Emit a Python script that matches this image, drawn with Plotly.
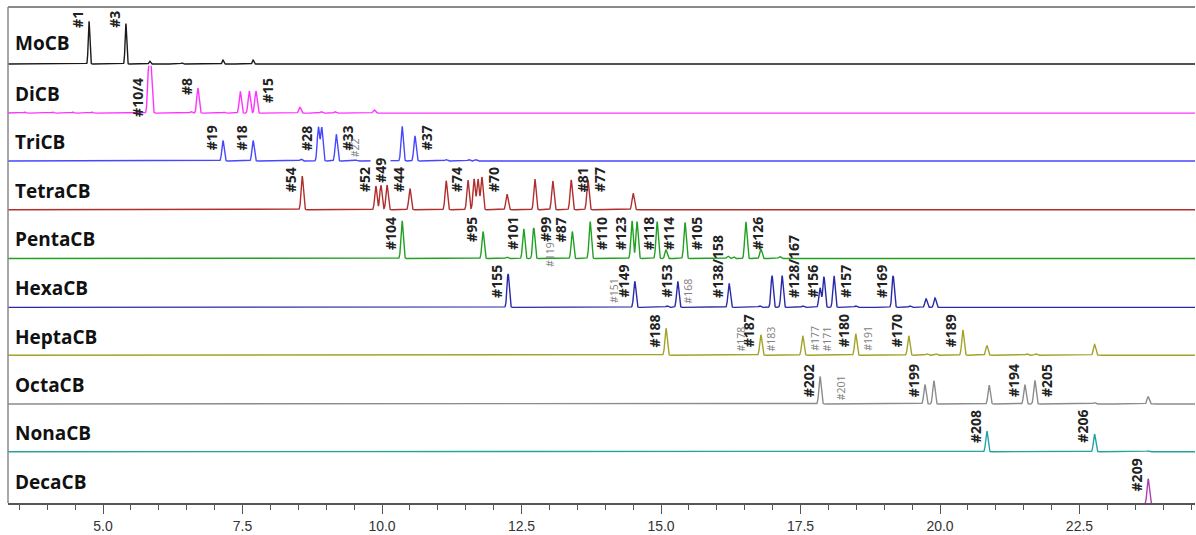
import numpy as np
import plotly.graph_objects as go
from plotly.subplots import make_subplots

# ---- peak tables: retention time (min), relative height, congener label ----
mocb_rt = [4.75, 5.41, 5.84, 6.42, 7.15, 7.69]
mocb_h = [0.75, 0.71, 0.05, 0.02, 0.07, 0.07]
mocb_lbl = ["#1", "#3", "", "", "", ""]

dicb_rt = [3.60, 4.10, 4.46, 4.80, 5.82, 5.86, 6.58, 6.70, 7.17, 7.46, 7.62, 7.74, 8.53, 8.91, 9.16, 9.86]
dicb_h = [0.02, 0.02, 0.02, 0.02, 0.96, 0.92, 0.03, 0.53, 0.02, 0.46, 0.47, 0.47, 0.12, 0.03, 0.03, 0.07]
dicb_lbl = ["", "", "", "", "#10/4", "", "", "#8", "", "", "", "#15", "", "", "", ""]

tricb_rt = [7.15, 7.69, 8.55, 8.86, 8.92, 9.18, 9.53, 10.36, 10.59, 11.15, 11.56, 11.68]
tricb_h = [0.44, 0.44, 0.04, 0.73, 0.72, 0.58, 0.02, 0.75, 0.54, 0.03, 0.03, 0.03]
tricb_lbl = ["#19", "#18", "", "#28", "", "#33", "", "", "#37", "", "", ""]

tetracb_rt = [8.57, 9.89, 9.98, 10.09, 10.50, 11.15, 11.54, 11.65, 11.72, 11.79, 12.24, 12.74, 13.06, 13.39, 13.69, 14.50]
tetracb_h = [0.71, 0.50, 0.52, 0.52, 0.45, 0.61, 0.63, 0.65, 0.65, 0.69, 0.33, 0.65, 0.61, 0.63, 0.63, 0.35]
tetracb_lbl = ["#54", "#52", "#49", "", "#44", "", "#74", "", "", "#70", "", "", "", "#81", "#77", ""]

pentacb_rt = [10.36, 11.81, 12.24, 12.54, 12.72, 13.41, 13.73, 14.48, 14.57, 14.93, 15.09, 15.43, 16.20, 16.30, 16.52, 16.79, 17.13]
pentacb_h = [0.80, 0.57, 0.03, 0.63, 0.65, 0.57, 0.78, 0.80, 0.78, 0.78, 0.18, 0.76, 0.05, 0.04, 0.78, 0.20, 0.04]
pentacb_lbl = ["#104", "#95", "", "#101", "#99", "#87", "#110", "#123", "#118", "#114", "", "#105", "", "", "#126", "", ""]

hexacb_rt = [12.26, 14.53, 15.11, 15.30, 16.22, 16.77, 16.99, 17.17, 17.54, 17.85, 17.92, 18.10, 18.49, 19.16, 19.46, 19.75, 19.91]
hexacb_h = [0.71, 0.55, 0.03, 0.55, 0.51, 0.03, 0.67, 0.67, 0.03, 0.41, 0.65, 0.67, 0.03, 0.67, 0.03, 0.18, 0.20]
hexacb_lbl = ["#155", "#149", "", "#153", "#138/158", "", "", "#128/167", "", "", "#156", "#157", "", "#169", "", "", ""]

heptacb_rt = [15.09, 16.79, 17.54, 18.49, 19.44, 19.77, 19.93, 20.41, 20.84, 21.56, 21.72, 22.77]
heptacb_h = [0.58, 0.44, 0.42, 0.46, 0.42, 0.03, 0.03, 0.54, 0.21, 0.03, 0.03, 0.23]
heptacb_lbl = ["#188", "#187", "", "#180", "#170", "", "", "#189", "", "", "", ""]

octacb_rt = [17.85, 19.73, 19.89, 20.88, 21.52, 21.70, 22.77, 23.73]
octacb_h = [0.58, 0.41, 0.49, 0.40, 0.41, 0.50, 0.03, 0.15]
octacb_lbl = ["#202", "#199", "", "", "#194", "#205", "", ""]

nonacb_rt = [20.84, 22.77, 23.73]
nonacb_h = [0.45, 0.38, 0.02]
nonacb_lbl = ["#208", "#206", ""]

decacb_rt = [23.73]
decacb_h = [0.50]
decacb_lbl = ["#209"]

# minor (co-eluting / trace) congeners, written in small grey text
minor_lbl = {
    "TriCB": [(9.53, "#22")],
    "PentaCB": [(13.01, "#119")],
    "HexaCB": [(14.16, "#151"), (15.48, "#168")],
    "HeptaCB": [(16.43, "#178"), (16.97, "#183"), (17.76, "#177"), (17.97, "#171"), (18.71, "#191")],
    "OctaCB": [(18.24, "#201")],
}

x_ticks = [5.0, 7.5, 10.0, 12.5, 15.0, 17.5, 20.0, 22.5]

# ---- presentation ----
series = [
    ("MoCB", "#1a1a1a", mocb_rt, mocb_h, mocb_lbl),
    ("DiCB", "#ff33ff", dicb_rt, dicb_h, dicb_lbl),
    ("TriCB", "#4747ff", tricb_rt, tricb_h, tricb_lbl),
    ("TetraCB", "#b02e2e", tetracb_rt, tetracb_h, tetracb_lbl),
    ("PentaCB", "#22a022", pentacb_rt, pentacb_h, pentacb_lbl),
    ("HexaCB", "#2a2aa8", hexacb_rt, hexacb_h, hexacb_lbl),
    ("HeptaCB", "#a3a32a", heptacb_rt, heptacb_h, heptacb_lbl),
    ("OctaCB", "#8c8c8c", octacb_rt, octacb_h, octacb_lbl),
    ("NonaCB", "#22a3a3", nonacb_rt, nonacb_h, nonacb_lbl),
    ("DecaCB", "#b03cb0", decacb_rt, decacb_h, decacb_lbl),
]
row_px = [59, 49, 48, 49, 49, 49, 48, 49, 48, 50]
label_top = [0.95, 0.76, 0.79, 0.92, 0.90, 0.92, 0.90, 0.86, 0.92, 0.92]
name_y = [0.38, 0.42, 0.42, 0.42, 0.42, 0.42, 0.42, 0.42, 0.42, 0.42]
peak_sigma = [0.014, 0.02, 0.02, 0.02, 0.02, 0.02, 0.02, 0.02, 0.02, 0.02]
right_side = {"#15", "#33", "#37", "#70", "#81", "#77", "#99", "#110", "#118",
              "#114", "#105", "#126", "#128/167", "#157", "#205"}
# (x anchor, y anchor, y, pixel lift, background) for labels off the row's top line
label_pos = {"#49": ("center", "top", 1.0, 6, "white"),
             "#138/158": (None, "bottom", 0.18, 0, None),
             "#128/167": (None, "bottom", 0.18, 0, None)}
minor_shift = {"#119": -9}

X_RANGE = [3.2975, 24.57]
grid = np.arange(3.25, 24.62, 0.004)

fig = make_subplots(rows=10, cols=1, shared_xaxes=True, vertical_spacing=0,
                    row_heights=row_px)

big_font = dict(family="Open Sans", size=14, color="#222222", weight="bold")
small_font = dict(family="Open Sans", size=10.5, color="#808080")

for i, (name, color, rt, h, lbl) in enumerate(series):
    row = i + 1
    y = np.zeros_like(grid)
    for r, a in zip(rt, h):
        y += a * np.exp(-0.5 * ((grid - r) / peak_sigma[i]) ** 2)
    fig.add_trace(go.Scatter(x=grid, y=y, mode="lines", name=name,
                             line=dict(color=color, width=1.4),
                             hoverinfo="skip", showlegend=False),
                  row=row, col=1)

    for r, a, t in zip(rt, h, lbl):
        if not t:
            continue
        side_right = t in right_side
        xa, ya, yv, lift, bg = label_pos.get(t, (None, "top", label_top[i], 0, None))
        if xa is None:
            xa = "left" if side_right else "right"
        xs = 0 if xa == "center" else (1 if side_right else -1)
        fig.add_annotation(x=r, y=yv, text=t, textangle=-90, showarrow=False,
                           xanchor=xa, yanchor=ya, xshift=xs, yshift=lift,
                           font=big_font, borderpad=0, bgcolor=bg,
                           row=row, col=1)

    for r, t in minor_lbl.get(name, []):
        fig.add_annotation(x=r, y=0, text=t, textangle=-90, showarrow=False,
                           xanchor="center", yanchor="bottom",
                           yshift=minor_shift.get(t, 3),
                           font=small_font, borderpad=0, row=row, col=1)

    fig.add_annotation(x=0, y=name_y[i], xref="paper", yref=f"y{'' if row == 1 else row} domain",
                       text=name, showarrow=False, xanchor="left", yanchor="middle",
                       xshift=5, font=dict(family="Open Sans", size=19, color="#111111",
                                           weight="bold"))

fig.update_yaxes(range=[-0.03, 1.0], showgrid=False, zeroline=False,
                 showticklabels=False, ticks="", showline=False)
# bottom row: the baseline is hidden under the time axis
fig.update_yaxes(row=10, col=1, range=[0.025, 1.0])
fig.update_xaxes(range=X_RANGE, showgrid=False, zeroline=False, showline=False,
                 ticks="", showticklabels=False)
fig.update_xaxes(row=10, col=1, showline=True, linecolor="#555555", linewidth=1.5,
                 ticks="outside", ticklen=9, tickwidth=1, tickcolor="#555555",
                 tickvals=x_ticks, ticktext=[f"{v:.1f}" for v in x_ticks],
                 showticklabels=True,
                 tickfont=dict(family="Liberation Sans", size=14, color="#333333"),
                 minor=dict(dtick=0.5, tick0=0, ticks="outside", ticklen=5,
                            tickwidth=1, tickcolor="#555555"))

# frame: left edge and top edge of the plotting area
fig.add_shape(type="line", xref="paper", yref="paper", x0=0, x1=0, y0=0, y1=1,
              line=dict(color="#8a8a8a", width=1.5))
fig.add_shape(type="line", xref="paper", yref="paper", x0=0, x1=1, y0=1, y1=1,
              line=dict(color="#8a8a8a", width=2))

fig.update_layout(width=1196, height=535, margin=dict(l=8, r=1, t=7, b=30),
                  paper_bgcolor="white", plot_bgcolor="white", showlegend=False)

fig.write_html("out.html")
